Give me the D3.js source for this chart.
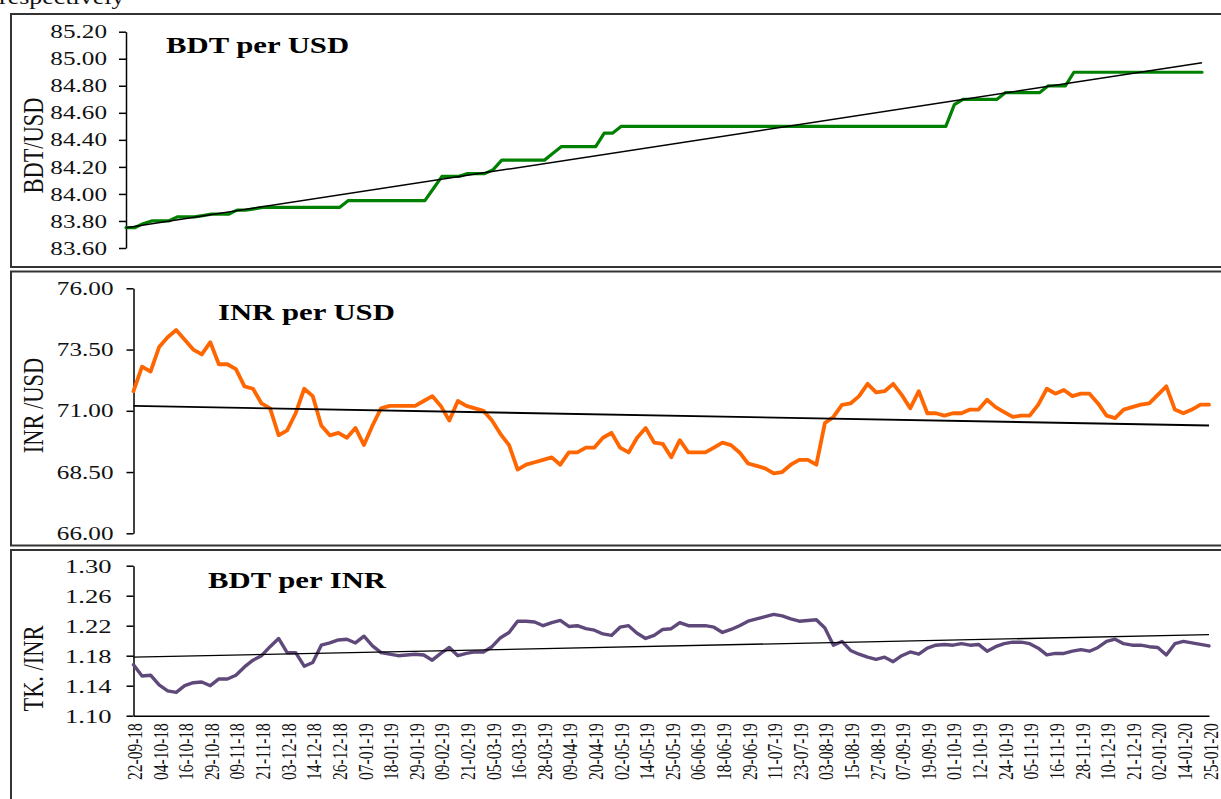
<!DOCTYPE html>
<html>
<head>
<meta charset="utf-8">
<script src="https://cdn.jsdelivr.net/npm/d3@7"></script>
<style>
	html, body { margin: 0; padding: 0; background: #fff; overflow: hidden; }
	svg { display: block; font-family: "Liberation Serif", "Times New Roman", serif; }
</style>
</head>
<body>
<div id="chart"></div>
<script>
// x axis labels, one every 3 points
var tickLabels = ["22-09-18", "04-10-18", "16-10-18", "29-10-18", "09-11-18", "21-11-18", "03-12-18", "14-12-18",
	"26-12-18", "07-01-19", "18-01-19", "29-01-19", "09-02-19", "21-02-19", "05-03-19", "16-03-19", "28-03-19",
	"09-04-19", "20-04-19", "02-05-19", "14-05-19", "25-05-19", "06-06-19", "18-06-19", "29-06-19", "11-07-19",
	"23-07-19", "03-08-19", "15-08-19", "27-08-19", "07-09-19", "19-09-19", "01-10-19", "12-10-19", "24-10-19",
	"05-11-19", "16-11-19", "28-11-19", "10-12-19", "21-12-19", "02-01-20", "14-01-20", "25-01-20"];

var bdtUsd = [83.75, 83.75, 83.78, 83.80, 83.80, 83.80, 83.83, 83.83, 83.83, 83.84,
	83.85, 83.85, 83.85, 83.88, 83.88, 83.89, 83.90, 83.90, 83.90, 83.90,
	83.90, 83.90, 83.90, 83.90, 83.90, 83.90, 83.95, 83.95, 83.95, 83.95,
	83.95, 83.95, 83.95, 83.95, 83.95, 83.95, 84.04, 84.13, 84.13, 84.13,
	84.15, 84.15, 84.15, 84.18, 84.25, 84.25, 84.25, 84.25, 84.25, 84.25,
	84.30, 84.35, 84.35, 84.35, 84.35, 84.35, 84.45, 84.45, 84.50, 84.50,
	84.50, 84.50, 84.50, 84.50, 84.50, 84.50, 84.50, 84.50, 84.50, 84.50,
	84.50, 84.50, 84.50, 84.50, 84.50, 84.50, 84.50, 84.50, 84.50, 84.50,
	84.50, 84.50, 84.50, 84.50, 84.50, 84.50, 84.50, 84.50, 84.50, 84.50,
	84.50, 84.50, 84.50, 84.50, 84.50, 84.50, 84.50, 84.66, 84.70, 84.70,
	84.70, 84.70, 84.70, 84.75, 84.75, 84.75, 84.75, 84.75, 84.80, 84.80,
	84.80, 84.90, 84.90, 84.90, 84.90, 84.90, 84.90, 84.90, 84.90, 84.90,
	84.90, 84.90, 84.90, 84.90, 84.90, 84.90, 84.90];

var inrUsd = [71.8, 72.8, 72.6, 73.6, 74.0, 74.3, 73.9, 73.5, 73.3, 73.8,
	72.9, 72.9, 72.7, 72.0, 71.9, 71.3, 71.1, 70.0, 70.2, 70.9,
	71.9, 71.6, 70.4, 70.0, 70.1, 69.9, 70.3, 69.6, 70.4, 71.1,
	71.2, 71.2, 71.2, 71.2, 71.4, 71.6, 71.2, 70.6, 71.4, 71.2,
	71.1, 71.0, 70.6, 70.05, 69.6, 68.6, 68.8, 68.9, 69.0, 69.1,
	68.8, 69.3, 69.3, 69.5, 69.5, 69.9, 70.1, 69.5, 69.3, 69.9,
	70.3, 69.7, 69.65, 69.1, 69.8, 69.3, 69.3, 69.3, 69.5, 69.7,
	69.6, 69.3, 68.85, 68.75, 68.65, 68.45, 68.5, 68.8, 69.0, 69.0,
	68.8, 70.5, 70.75, 71.24, 71.3, 71.6, 72.1, 71.75, 71.8, 72.1,
	71.65, 71.1, 71.8, 70.9, 70.9, 70.8, 70.9, 70.9, 71.05, 71.05,
	71.45, 71.15, 70.95, 70.75, 70.8, 70.8, 71.25, 71.9, 71.7, 71.85,
	71.6, 71.7, 71.7, 71.3, 70.8, 70.7, 71.05, 71.15, 71.25, 71.3,
	71.65, 72.0, 71.05, 70.9, 71.05, 71.25, 71.25];

var bdtInr = [1.168, 1.153, 1.154, 1.141, 1.133, 1.131, 1.140, 1.144, 1.145, 1.140,
	1.149, 1.149, 1.154, 1.165, 1.174, 1.180, 1.192, 1.203, 1.184, 1.184,
	1.166, 1.171, 1.194, 1.197, 1.201, 1.202, 1.197, 1.206, 1.193, 1.184,
	1.182, 1.180, 1.181, 1.182, 1.181, 1.174, 1.183, 1.191, 1.180, 1.183,
	1.185, 1.185, 1.192, 1.204, 1.211, 1.226, 1.226, 1.225, 1.220, 1.224,
	1.227, 1.219, 1.220, 1.216, 1.214, 1.209, 1.207, 1.218, 1.220, 1.210,
	1.203, 1.207, 1.215, 1.216, 1.224, 1.220, 1.220, 1.220, 1.218, 1.211,
	1.215, 1.220, 1.226, 1.229, 1.232, 1.235, 1.233, 1.229, 1.226, 1.227,
	1.228, 1.217, 1.194, 1.199, 1.187, 1.182, 1.178, 1.175, 1.178, 1.172,
	1.180, 1.185, 1.182, 1.190, 1.194, 1.195, 1.194, 1.196, 1.194, 1.195,
	1.186, 1.192, 1.196, 1.198, 1.198, 1.196, 1.190, 1.181, 1.183, 1.183,
	1.186, 1.188, 1.186, 1.191, 1.199, 1.202, 1.196, 1.194, 1.194, 1.192,
	1.191, 1.181, 1.196, 1.199, 1.197, 1.195, 1.193];

// linear trend, start and end values
var bdtUsdTrend = [83.75, 84.97];
var inrUsdTrend = [71.20, 70.40];
var bdtInrTrend = [1.178, 1.208];

var bdtUsdTicks = [83.6, 83.8, 84.0, 84.2, 84.4, 84.6, 84.8, 85.0, 85.2];
var inrUsdTicks = [66, 68.5, 71, 73.5, 76];
var bdtInrTicks = [1.10, 1.14, 1.18, 1.22, 1.26, 1.30];

var width = 1221, height = 799;
var SX = 1.3; // the original picture is stretched sideways

var svg = d3.select("#chart").append("svg")
	.attr("width", width)
	.attr("height", height);

svg.append("rect").attr("width", width).attr("height", height).attr("fill", "#fff");

// caption line above the chart, cut by the top edge
svg.append("text")
	.attr("transform", "translate(-1,4) scale(" + SX + ",1)")
	.attr("font-size", 20)
	.attr("fill", "#111")
	.text("respectively");

var panels = [
	{
		data: bdtUsd, trend: bdtUsdTrend, ticks: bdtUsdTicks,
		title: "BDT per USD", ylabel: "BDT/USD",
		box: [14, 267], x: [126, 1202], y: [248, 31.7], domain: [83.6, 85.2],
		color: "#008000", lw: 3.2, tw: 1.5, gap: 19, tickFont: 18,
		titlePos: [166, 53], labelY: 145.5
	},
	{
		data: inrUsd, trend: inrUsdTrend, ticks: inrUsdTicks,
		title: "INR per USD", ylabel: "INR /USD",
		box: [271.5, 545.5], x: [133.5, 1209], y: [533.3, 288.3], domain: [66, 76],
		color: "#ff6600", lw: 3.8, tw: 1.8, gap: 20, tickFont: 18,
		titlePos: [218, 320], labelY: 405.5
	},
	{
		data: bdtInr, trend: bdtInrTrend, ticks: bdtInrTicks,
		title: "BDT per INR", ylabel: "TK. /INR",
		box: [550, 820], x: [133.5, 1209], y: [715.7, 565.7], domain: [1.10, 1.30],
		color: "#5f497a", lw: 3.4, tw: 1.3, gap: 22, tickFont: 19,
		titlePos: [208, 588], labelY: 668.5, xAxis: true
	}
];

panels.forEach(function(p) {
	var g = svg.append("g");

	g.append("rect")
		.attr("x", 11)
		.attr("y", p.box[0])
		.attr("width", 1240)
		.attr("height", p.box[1] - p.box[0])
		.attr("fill", "none")
		.attr("stroke", "#333")
		.attr("stroke-width", 2);

	var x = d3.scaleLinear().domain([0, p.data.length - 1]).range(p.x),
			y = d3.scaleLinear().domain(p.domain).range(p.y);

	var yAxis = d3.axisLeft(y)
		.tickValues(p.ticks)
		.tickFormat(d3.format(".2f"))
		.tickSize(7)
		.tickSizeOuter(0);

	var ya = g.append("g")
		.attr("transform", "translate(" + p.x[0] + ",0)")
		.call(yAxis);
	ya.select(".domain").attr("stroke", "#000").attr("stroke-width", 1.5);
	ya.selectAll(".tick line").attr("stroke", "#000").attr("stroke-width", 1.5);
	ya.selectAll("text")
		.attr("font-family", "'Liberation Serif', 'Times New Roman', serif")
		.attr("font-size", p.tickFont)
		.attr("fill", "#111")
		.attr("x", -p.gap / 1.4)
		.attr("dy", "0.34em")
		.attr("transform", "scale(1.4,1)");

	if(p.xAxis) {
		var xAxis = d3.axisBottom(x)
			.tickValues(d3.range(0, p.data.length, 3))
			.tickFormat(function(d) { return tickLabels[d / 3]; })
			.tickSize(0)
			.tickSizeOuter(0);
		var xa = g.append("g")
			.attr("transform", "translate(0," + p.y[0] + ")")
			.call(xAxis);
		xa.select(".domain").attr("stroke", "#000").attr("stroke-width", 1.5);
		xa.selectAll("text")
			.attr("font-family", "'Liberation Serif', 'Times New Roman', serif")
			.attr("font-size", 15.5)
			.attr("fill", "#111")
			.attr("text-anchor", "end")
			.attr("x", 0)
			.attr("y", 0)
			.attr("dy", "0.35em")
			.attr("transform", "translate(1,7.5) scale(" + SX + ",1) rotate(-90)");
	}

	var line = d3.line()
		.x(function(d, i) { return x(i); })
		.y(function(d) { return y(d); });

	g.append("path")
		.datum(p.data)
		.attr("fill", "none")
		.attr("stroke", p.color)
		.attr("stroke-width", p.lw)
		.attr("stroke-linejoin", "round")
		.attr("stroke-linecap", "round")
		.attr("d", line);

	g.append("line")
		.attr("x1", x(0))
		.attr("x2", x(p.data.length - 1))
		.attr("y1", y(p.trend[0]))
		.attr("y2", y(p.trend[1]))
		.attr("stroke", "#000")
		.attr("stroke-width", p.tw);

	g.append("text")
		.attr("transform", "translate(" + p.titlePos[0] + "," + p.titlePos[1] + ") scale(1.28,1)")
		.attr("font-size", 24)
		.attr("font-weight", "bold")
		.attr("fill", "#000")
		.text(p.title);

	g.append("text")
		.attr("transform", "translate(33," + p.labelY + ") scale(" + SX + ",1) rotate(-90)")
		.attr("text-anchor", "middle")
		.attr("dy", "0.35em")
		.attr("font-size", 22.5)
		.attr("fill", "#111")
		.text(p.ylabel);
});
</script>
</body>
</html>
